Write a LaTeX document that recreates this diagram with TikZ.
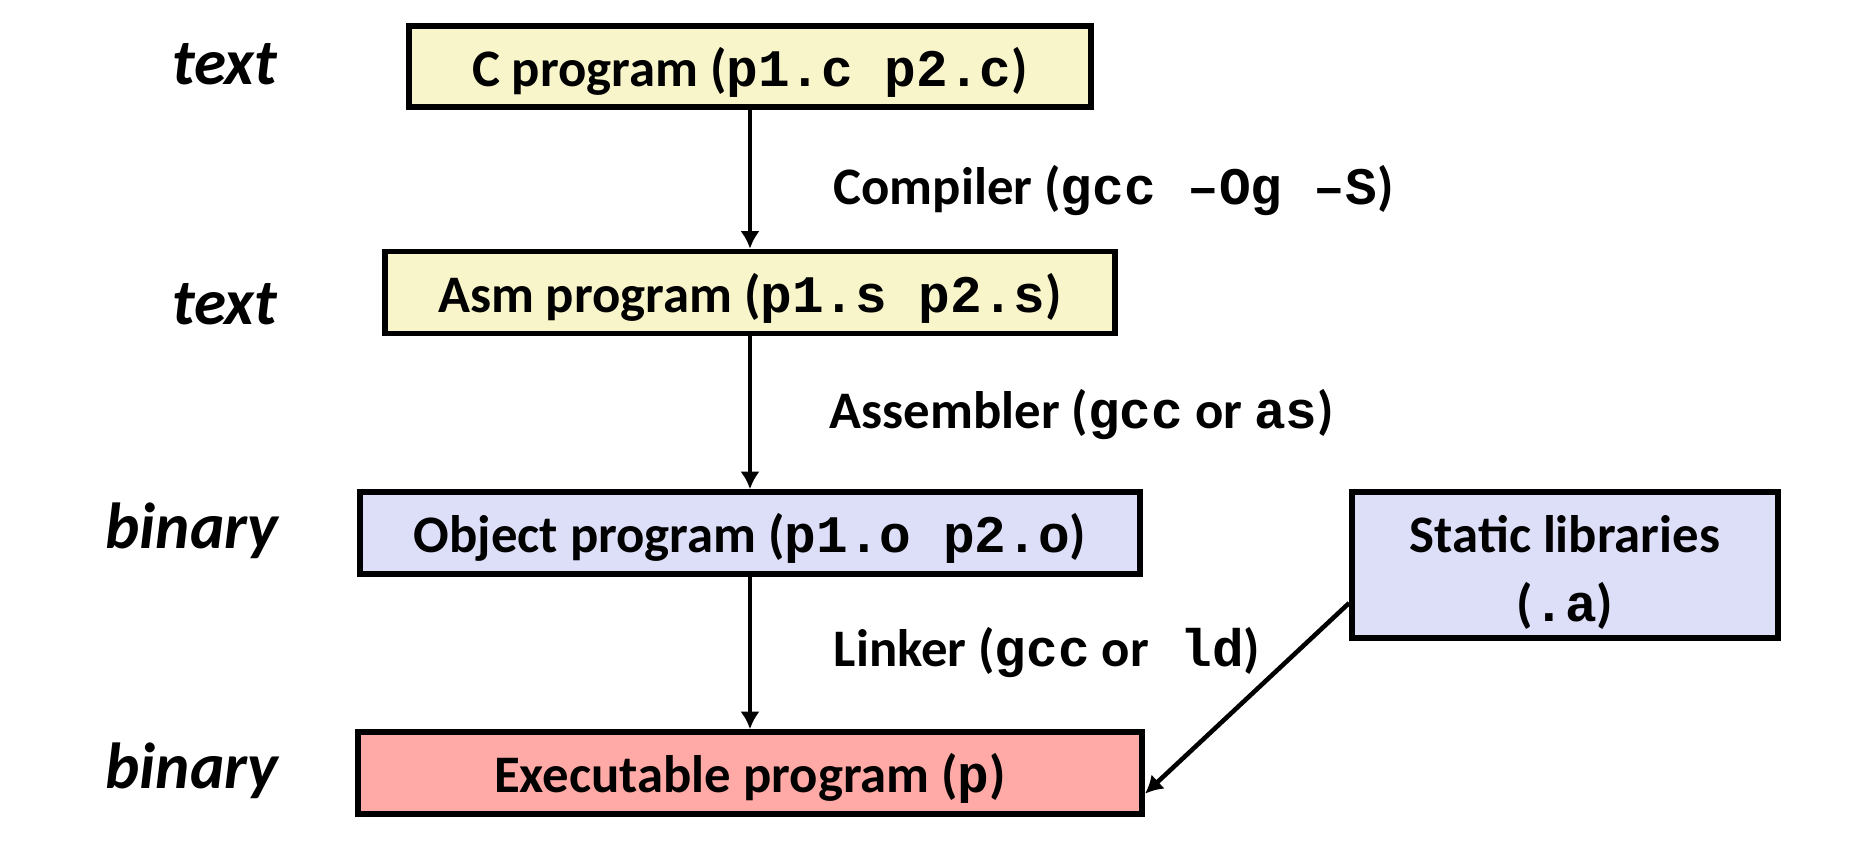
\documentclass[tikz,border=0pt]{standalone}
\usepackage{fontspec}
\setmainfont{Carlito}
\newfontfamily\monofam{Liberation Mono}
\usetikzlibrary{arrows.meta}
\definecolor{boxyellow}{RGB}{248,245,202}
\definecolor{boxblue}{RGB}{221,222,248}
\definecolor{boxpink}{RGB}{255,170,166}
\newcommand\mcode[1]{{\monofam\bfseries #1}}
\begin{document}
\begin{tikzpicture}[x=0.01cm,y=-0.01cm,
  box/.style={draw, line width=1.6pt, inner sep=0pt, font=\fontsize{15}{19.5}\selectfont\bfseries, align=center},
  onebox/.style={box, text height=14.8pt, text depth=3.5pt},
  kind/.style={font=\fontsize{18.5}{21}\selectfont\bfseries\itshape, anchor=base east, inner sep=0pt},
  tool/.style={font=\fontsize{15}{19}\selectfont\bfseries, anchor=base west, inner sep=0pt},
  arr/.style={line width=1.3pt, -{Latex[length=5pt,width=5.5pt]}}]
\useasboundingbox (0,0) rectangle (1857,854);
% boxes
\node[onebox, fill=boxyellow, minimum width=6.82cm, minimum height=0.81cm] (c) at (750,66.5) {C program (\mcode{p1.c p2.c})};
\node[onebox, fill=boxyellow, minimum width=7.30cm, minimum height=0.82cm] (asm) at (750,292.5) {Asm program (\mcode{p1.s p2.s})};
\node[onebox, fill=boxblue, minimum width=7.79cm, minimum height=0.82cm] (obj) at (750,533) {Object program (\mcode{p1.o p2.o})};
\node[onebox, fill=boxpink, minimum width=7.84cm, minimum height=0.82cm] (exe) at (750,773) {Executable program (\mcode{p})};
\node[box, fill=boxblue, minimum width=4.26cm, minimum height=1.46cm] (lib) at (1565,565) {\rule{0pt}{14.8pt}Static libraries\\(\mcode{.a})};
% left labels
\node[kind] (k1) at (278,84) {text};
\node[kind] (k2) at (278,324) {text};
\node[kind] (k3) at (279,548) {binary};
\node[kind] (k4) at (279,788) {binary};
% tool labels
\node[tool] (t1) at (833,204) {Compiler (\mcode{gcc –Og –S})};
\node[tool] (t2) at (829,428) {Assembler (\mcode{gcc} or \mcode{as})};
\node[tool] (t3) at (833,666) {Linker (\mcode{gcc} or\mcode{ ld})};
% arrows
\draw[arr] (c.south) -- (asm.north);
\draw[arr] (asm.south) -- (obj.north);
\draw[arr] (obj.south) -- (exe.north);
\draw[arr] (lib.190) -- (exe.357);
\end{tikzpicture}
\end{document}
